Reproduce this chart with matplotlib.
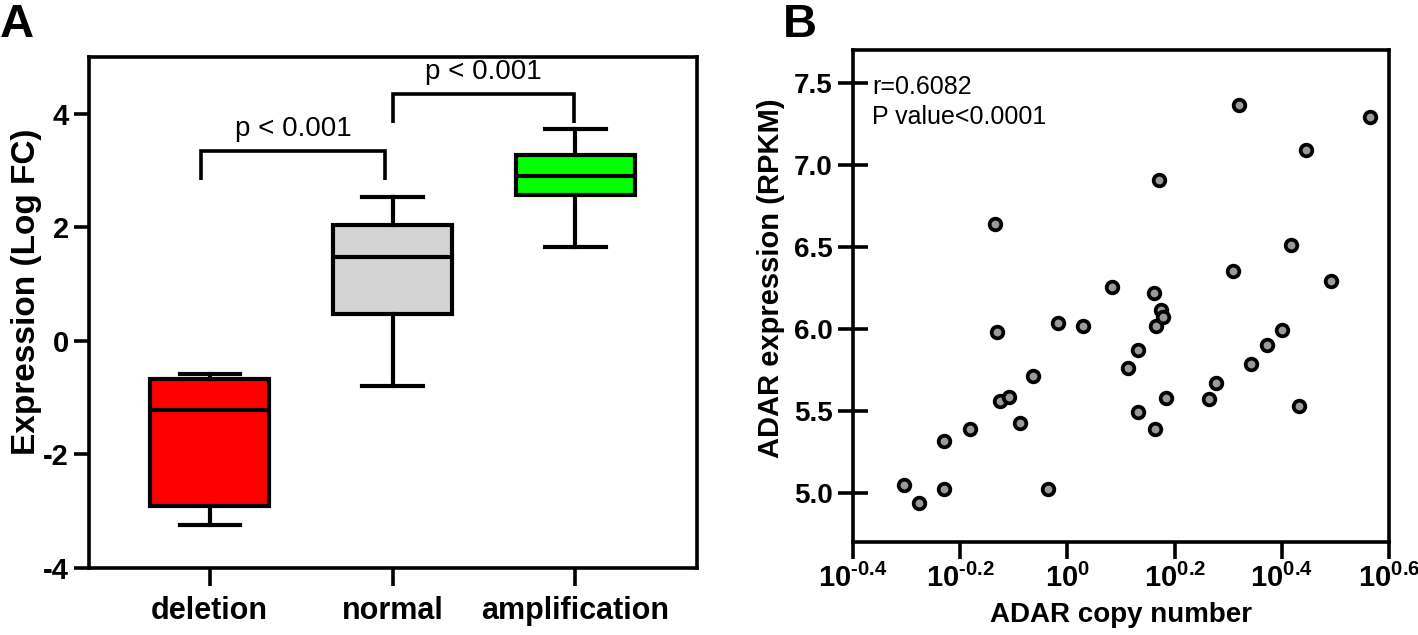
import matplotlib
matplotlib.use('Agg')
import matplotlib.pyplot as plt
from matplotlib.ticker import NullLocator, FixedLocator

plt.rcParams['font.family'] = ['Liberation Sans', 'DejaVu Sans']
plt.rcParams['mathtext.fontset'] = 'custom'
plt.rcParams['mathtext.rm'] = 'Liberation Sans:bold'
plt.rcParams['mathtext.bf'] = 'Liberation Sans:bold'
plt.rcParams['mathtext.it'] = 'Liberation Sans:bold'

# ---------------- Panel A data ----------------
categories = ['deletion', 'normal', 'amplification']
whisker_low = [-3.25, -0.80, 1.65]
q1 = [-2.90, 0.48, 2.57]
median = [-1.21, 1.48, 2.90]
q3 = [-0.68, 2.04, 3.28]
whisker_high = [-0.58, 2.54, 3.73]
box_colors = ['#FF0000', '#D4D4D4', '#00FF00']
yticks_a = [-4, -2, 0, 2, 4]
bracket_pairs = [(0, 1), (1, 2)]
bracket_heights = [3.35, 4.35]
bracket_labels = ['p < 0.001', 'p < 0.001']

# ---------------- Panel B data ----------------
copy_number = [0.495, 0.528, 0.589, 0.589, 0.659, 0.734, 0.740, 0.750, 0.777,
               0.816, 0.862, 0.921, 0.962, 1.068, 1.210, 1.299, 1.352, 1.352,
               1.450, 1.459, 1.462, 1.493, 1.507, 1.484, 1.528, 1.837, 1.891,
               2.039, 2.093, 2.203, 2.355, 2.518, 2.612, 2.708, 2.786, 3.097,
               3.669]
adar_expression = [5.050, 4.937, 5.026, 5.316, 5.391, 6.641, 5.983, 5.557, 5.584,
                   5.428, 5.710, 5.021, 6.038, 6.017, 6.257, 5.758, 5.868, 5.492,
                   6.216, 5.391, 6.017, 6.115, 6.069, 6.907, 5.580, 5.574, 5.667,
                   6.355, 7.367, 5.786, 5.899, 5.991, 6.512, 5.527, 7.091, 6.293,
                   7.291]
xtick_exponents = ['-0.4', '-0.2', '0', '0.2', '0.4', '0.6']
yticks_b = [5.0, 5.5, 6.0, 6.5, 7.0, 7.5]
stats_text = 'r=0.6082\nP value<0.0001'

fig = plt.figure(figsize=(14.18, 6.35), dpi=100)

# ================= Panel A =================
axA = fig.add_axes([89 / 1418, 1 - 568 / 635, (697 - 89) / 1418, (568 - 57) / 635])
positions = [1, 2, 3]
stats = []
for i in range(3):
    stats.append(dict(whislo=whisker_low[i], q1=q1[i], med=median[i], q3=q3[i],
                      whishi=whisker_high[i], fliers=[], label=categories[i]))
lw = 3.0
bp = axA.bxp(stats, positions=positions, widths=0.65, patch_artist=True,
             showfliers=False, capwidths=0.33,
             boxprops=dict(linewidth=lw, edgecolor='black'),
             whiskerprops=dict(linewidth=lw, color='black'),
             capprops=dict(linewidth=lw, color='black'),
             medianprops=dict(linewidth=lw, color='black'))
for patch, c in zip(bp['boxes'], box_colors):
    patch.set_facecolor(c)
    patch.set_joinstyle('miter')

axA.set_xlim(0.34, 3.665)
axA.set_ylim(-4, 5)
axA.set_yticks(yticks_a)
axA.set_yticklabels([str(v) for v in yticks_a])
axA.set_xticks(positions)
axA.set_xticklabels(categories)
for s in axA.spines.values():
    s.set_linewidth(2.6)
axA.tick_params(axis='both', direction='out', width=2.6, length=11, labelsize=21)
axA.tick_params(axis='x', length=13, pad=7, labelsize=22)
for lab in axA.get_xticklabels() + axA.get_yticklabels():
    lab.set_fontweight('bold')
axA.set_ylabel('Expression (Log FC)', fontsize=24, fontweight='bold')
axA.yaxis.set_label_coords(-0.078, 0.54)

# significance brackets
for (a, b), h, lab in zip(bracket_pairs, bracket_heights, bracket_labels):
    xa = positions[a] - 0.05 if a == 0 else positions[a]
    xb = positions[b] - 0.04 if a == 0 else positions[b] - 0.01
    axA.plot([xa, xa, xb, xb], [h - 0.52, h, h, h - 0.52], color='black',
             linewidth=2.6, solid_joinstyle='miter', solid_capstyle='butt')
    axA.text((xa + xb) / 2, h + 0.15, lab, ha='center', va='bottom', fontsize=20)

fig.text(0.0, 0.995, 'A', fontsize=34, fontweight='bold', ha='left', va='top')

# ================= Panel B =================
axB = fig.add_axes([853 / 1418, 1 - 542 / 635, (1389 - 853) / 1418, (542 - 50) / 635])
axB.scatter(copy_number, adar_expression, s=70, facecolor='#9A9A9A',
            edgecolor='black', linewidth=2.7, zorder=3)
axB.set_xscale('log')
xt = [10 ** float(e) for e in xtick_exponents]
axB.set_xlim(xt[0], xt[-1])
axB.set_ylim(4.7, 7.7)
axB.xaxis.set_major_locator(FixedLocator(xt))
axB.xaxis.set_minor_locator(NullLocator())
axB.set_xticklabels([r'$\mathbf{10^{\text{%s}}}$' % e for e in xtick_exponents])
axB.set_yticks(yticks_b)
axB.set_yticklabels(['%.1f' % v for v in yticks_b])
for s in axB.spines.values():
    s.set_linewidth(2.6)
axB.tick_params(axis='y', direction='inout', width=2.6, length=22, labelsize=20)
axB.tick_params(axis='x', direction='out', width=2.6, length=12, labelsize=21, pad=4)
for lab in axB.get_yticklabels():
    lab.set_fontweight('bold')
axB.set_xlabel('ADAR copy number', fontsize=20, fontweight='bold', labelpad=6)
axB.set_ylabel('ADAR expression (RPKM)', fontsize=21, fontweight='bold')
axB.yaxis.set_label_coords(-0.127, 0.537)
axB.text(0.035, 0.895, stats_text, transform=axB.transAxes, ha='left', va='center',
         fontsize=18, linespacing=1.3)

fig.text(783 / 1418, 0.995, 'B', fontsize=34, fontweight='bold', ha='left', va='top')

fig.savefig('out.png', dpi=100)
